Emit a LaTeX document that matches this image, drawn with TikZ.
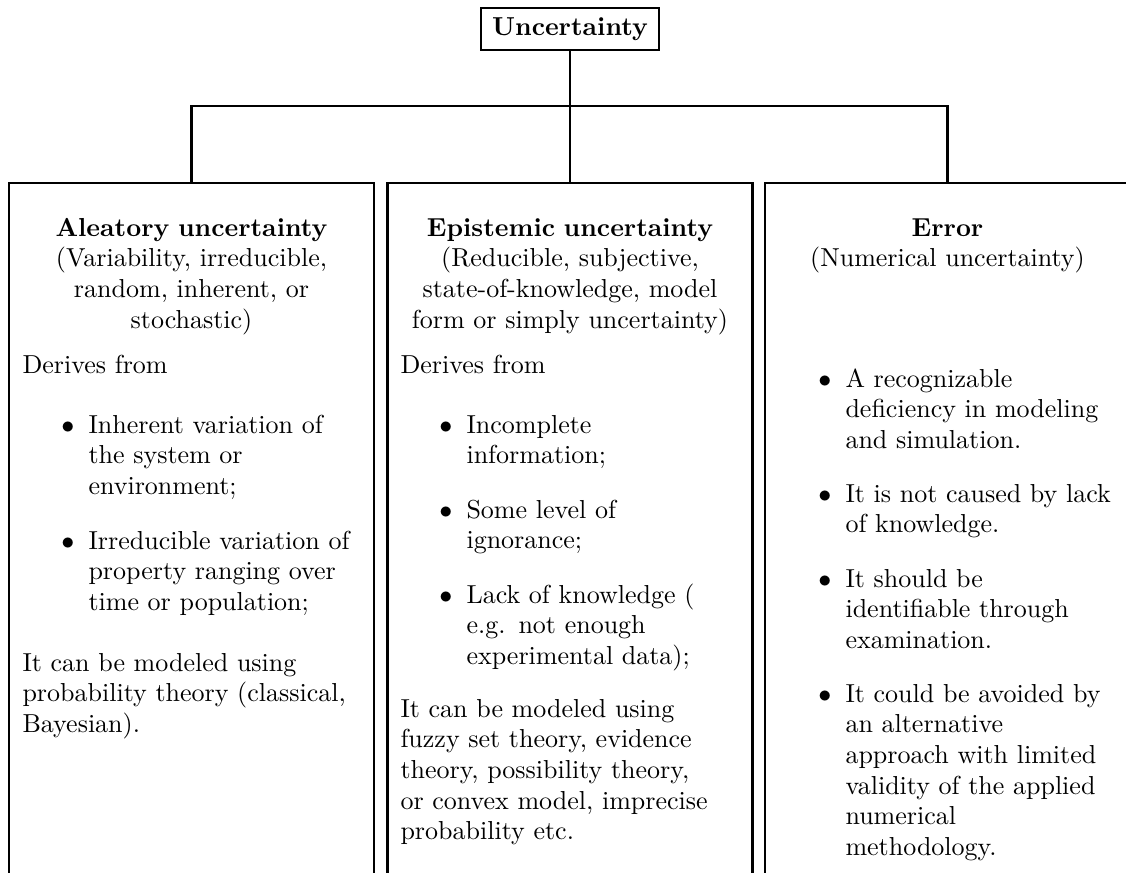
\documentclass[tikz,border=0pt]{standalone}
\begin{document}
\begin{tikzpicture}[x=0.3846pt,y=-0.3846pt,
  every node/.style={inner sep=0pt, font=\fontsize{10}{11.8}\selectfont},
  col/.style={draw, line width=0.8pt, minimum width=140.4pt, minimum height=276pt, anchor=north},
  topbox/.style={draw, line width=0.8pt, font=\bfseries, minimum height=16.2pt, minimum width=68.5pt},
  head/.style={anchor=base, text width=138pt, align=center},
  para/.style={anchor=base west, text width=135pt, align=left},
  itm/.style={anchor=base west, text width=108pt, align=left},
  bul/.style={anchor=base east},
  link/.style={line width=0.8pt}]
\clip (0,0) rectangle (1126,873);
% boxes
\node[topbox] (unc) at (570,29) {Uncertainty};
\node[col] (ale) at (191.5,182) {};
\node[col] (epi) at (570,182) {};
\node[col] (err) at (947.5,182) {};
\coordinate (bus) at (570,106);
\draw[link] (unc.south) -- (epi.north);
\draw[link] (ale.north) |- (bus) -| (err.north);
% left column
\node[head] (aleh) at (191.5,236) {\textbf{Aleatory uncertainty}\\(Variability, irreducible,\\random, inherent, or\\stochastic)};
\node[para] (aled) at (22,373) {Derives from};
\node[bul] (aleb1) at (75,433) {$\bullet$};
\node[itm] (alei1) at (88,433) {Inherent variation of\\the system or\\environment;};
\node[bul] (aleb2) at (75,549) {$\bullet$};
\node[itm] (alei2) at (88,549) {Irreducible variation of\\property ranging over\\time or population;};
\node[para] (alep) at (22,671) {It can be modeled using\\probability theory (classical,\\Bayesian).};
% middle column
\node[head] (epih) at (570,236) {\textbf{Epistemic uncertainty}\\(Reducible, subjective,\\state-of-knowledge, model\\form or simply uncertainty)};
\node[para] (epid) at (400,373) {Derives from};
\node[bul] (epib1) at (453,433) {$\bullet$};
\node[itm] (epii1) at (466,433) {Incomplete\\information;};
\node[bul] (epib2) at (453,518) {$\bullet$};
\node[itm] (epii2) at (466,518) {Some level of\\ignorance;};
\node[bul] (epib3) at (453,603) {$\bullet$};
\node[itm] (epii3) at (466,603) {Lack of knowledge (\\e.g. not enough\\experimental data);};
\node[para] (epip) at (400,717) {It can be modeled using\\fuzzy set theory, evidence\\theory, possibility theory,\\or convex model, imprecise\\probability etc.};
% right column
\node[head] (errh) at (947.5,236) {\textbf{Error}\\(Numerical uncertainty)};
\node[bul] (errb1) at (832,387) {$\bullet$};
\node[itm] (erri1) at (845,387) {A recognizable\\deficiency in modeling\\and simulation.};
\node[bul] (errb2) at (832,502) {$\bullet$};
\node[itm] (erri2) at (845,502) {It is not caused by lack\\of knowledge.};
\node[bul] (errb3) at (832,587) {$\bullet$};
\node[itm] (erri3) at (845,587) {It should be\\identifiable through\\examination.};
\node[bul] (errb4) at (832,702) {$\bullet$};
\node[itm] (erri4) at (845,702) {It could be avoided by\\an alternative\\approach with limited\\validity of the applied\\numerical\\methodology.};
\end{tikzpicture}
\end{document}
